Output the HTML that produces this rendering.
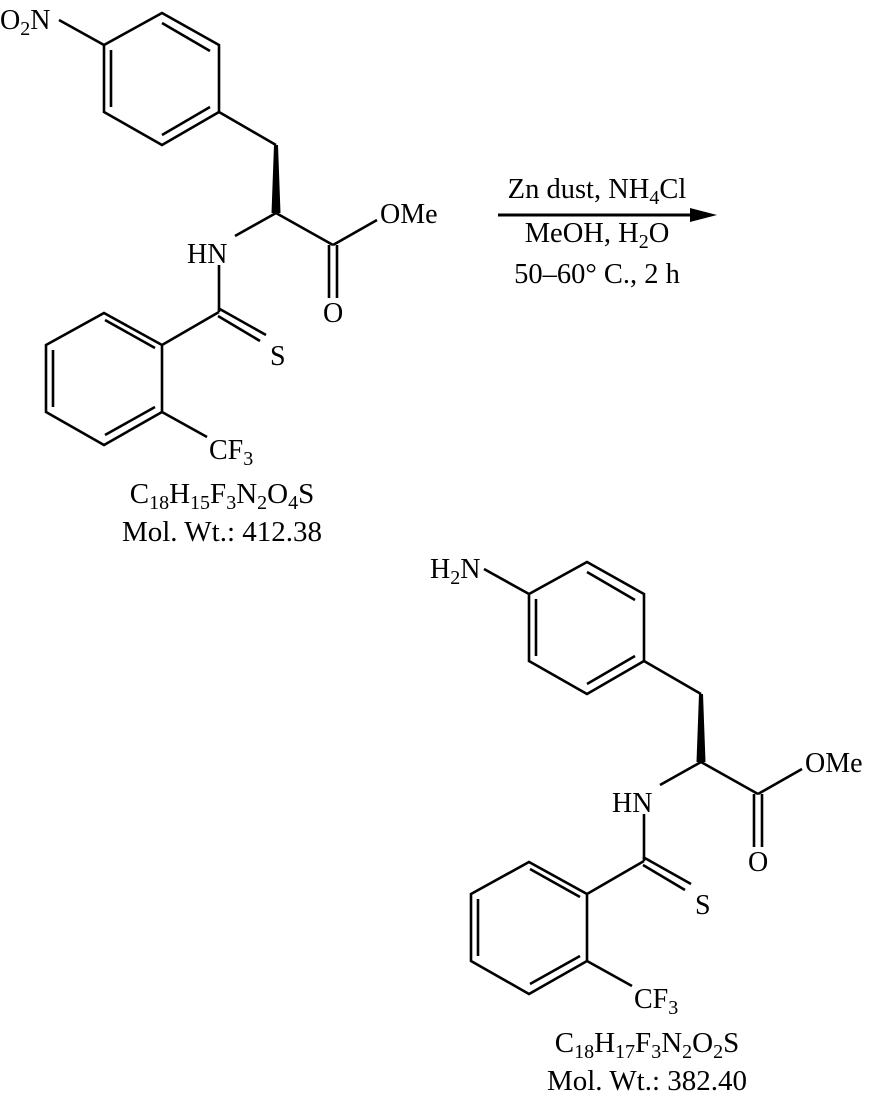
<!DOCTYPE html>
<html><head><meta charset="utf-8"><style>
html,body{margin:0;padding:0;background:#fff}
svg{display:block}
text{font-family:"Liberation Serif",serif;font-size:28px;fill:#000}
</style></head><body>
<svg width="872" height="1097" viewBox="0 0 872 1097" xmlns="http://www.w3.org/2000/svg">
<defs>
<g id="mol">
<g stroke="#000" stroke-width="2.6" fill="none" stroke-linecap="butt">
<polygon points="162,13 219,45 219,112 162,145 104,112 104,45"/>
<line x1="111" y1="50" x2="111" y2="107"/>
<line x1="162" y1="23" x2="210" y2="51"/>
<line x1="162" y1="135" x2="210" y2="107"/>
<line x1="219" y1="112" x2="276" y2="145"/>
<line x1="276" y1="213" x2="235" y2="236"/>
<line x1="276" y1="213" x2="333" y2="245"/>
<line x1="333" y1="245" x2="377" y2="220"/>
<line x1="329" y1="245" x2="329" y2="298"/>
<line x1="337" y1="245" x2="337" y2="298"/>
<line x1="219" y1="265" x2="219" y2="312"/>
<line x1="218" y1="308" x2="266" y2="335"/>
<line x1="218" y1="316" x2="260" y2="341"/>
<line x1="219" y1="312" x2="162" y2="345"/>
<polygon points="104,313 162,345 162,412 104,445 46,412 46,345"/>
<line x1="105" y1="320" x2="155" y2="348"/>
<line x1="53" y1="350" x2="53" y2="407"/>
<line x1="105" y1="435" x2="155" y2="407"/>
<line x1="162" y1="412" x2="207" y2="437"/>
</g>
<polygon points="274,145 278,145 280.5,213 271.5,213" fill="#000"/>
<text x="187" y="263">HN</text>
<text x="380" y="223">OMe</text>
<text x="323" y="322">O</text>
<text x="270" y="365">S</text>
<text x="209" y="459">CF<tspan font-size="20" dy="6">3</tspan></text>
</g>
</defs>
<use href="#mol"/>
<line x1="59" y1="20" x2="104" y2="45" stroke="#000" stroke-width="2.6"/>
<text x="0" y="29">O<tspan font-size="20" dy="6">2</tspan><tspan dy="-6">N</tspan></text>
<text x="222" y="503" text-anchor="middle" style="font-size:29px">C<tspan font-size="20" dy="6">18</tspan><tspan dy="-6">H</tspan><tspan font-size="20" dy="6">15</tspan><tspan dy="-6">F</tspan><tspan font-size="20" dy="6">3</tspan><tspan dy="-6">N</tspan><tspan font-size="20" dy="6">2</tspan><tspan dy="-6">O</tspan><tspan font-size="20" dy="6">4</tspan><tspan dy="-6">S</tspan></text>
<text x="222" y="541" text-anchor="middle" style="font-size:29px">Mol. Wt.: 412.38</text>

<line x1="498" y1="215" x2="695" y2="215" stroke="#000" stroke-width="3"/>
<polygon points="717,215 690,208 690,222" fill="#000"/>
<text x="597" y="198" text-anchor="middle" style="font-size:28.5px">Zn dust, NH<tspan font-size="20" dy="6">4</tspan><tspan dy="-6">Cl</tspan></text>
<text x="597" y="242" text-anchor="middle" style="font-size:28.5px">MeOH, H<tspan font-size="20" dy="6">2</tspan><tspan dy="-6">O</tspan></text>
<text x="597" y="283" text-anchor="middle" style="font-size:28.5px">50–60° C., 2 h</text>

<g transform="translate(425,549)">
<use href="#mol"/>
<line x1="59" y1="20" x2="104" y2="45" stroke="#000" stroke-width="2.6"/>
<text x="5" y="29">H<tspan font-size="20" dy="6">2</tspan><tspan dy="-6">N</tspan></text>
<text x="222" y="503" text-anchor="middle" style="font-size:29px">C<tspan font-size="20" dy="6">18</tspan><tspan dy="-6">H</tspan><tspan font-size="20" dy="6">17</tspan><tspan dy="-6">F</tspan><tspan font-size="20" dy="6">3</tspan><tspan dy="-6">N</tspan><tspan font-size="20" dy="6">2</tspan><tspan dy="-6">O</tspan><tspan font-size="20" dy="6">2</tspan><tspan dy="-6">S</tspan></text>
<text x="222" y="541" text-anchor="middle" style="font-size:29px">Mol. Wt.: 382.40</text>
</g>
</svg>
</body></html>
